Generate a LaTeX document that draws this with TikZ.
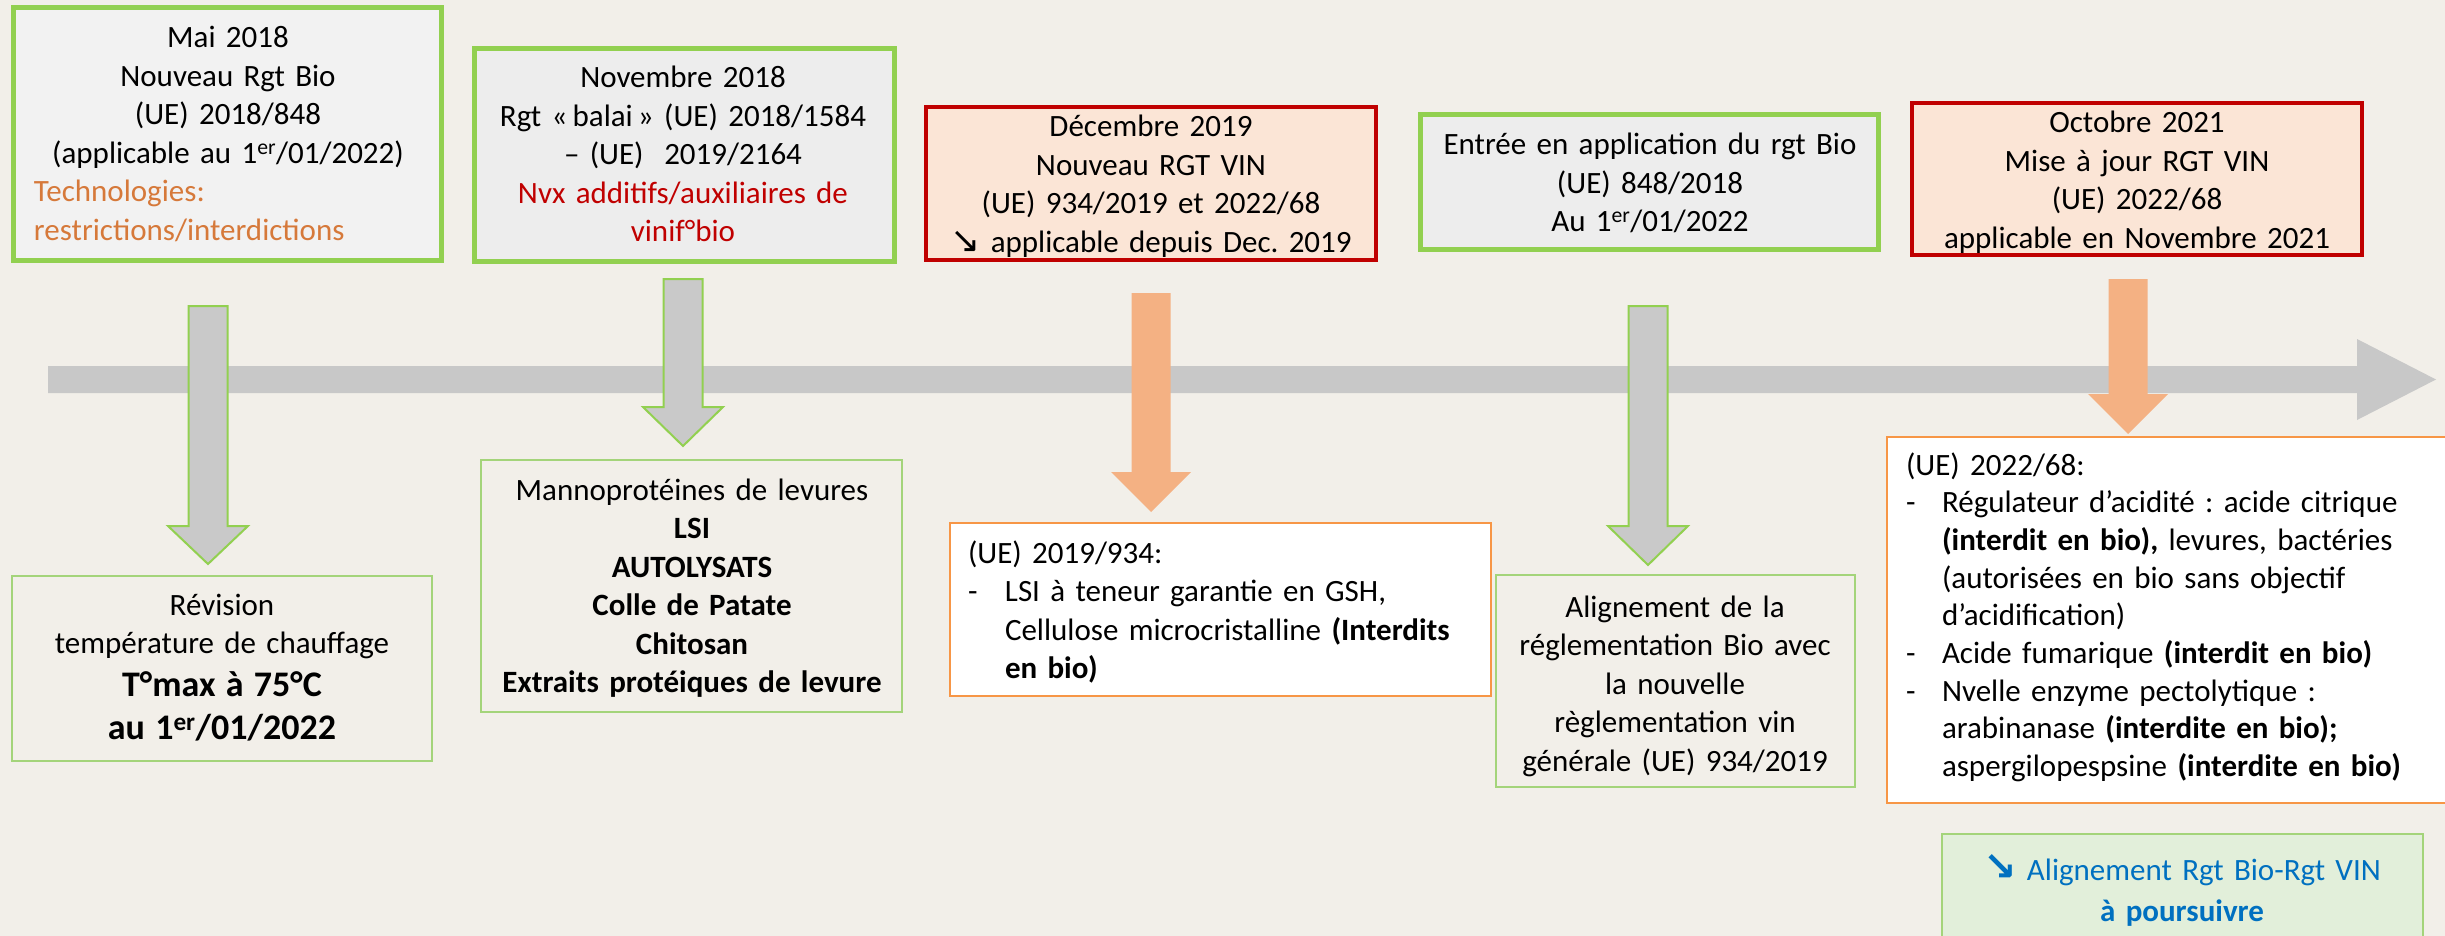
\documentclass[tikz,border=0pt]{standalone}
\usepackage{fontspec}
\setmainfont{Carlito}
\newfontfamily\symf{DejaVu Sans}
\frenchspacing
\definecolor{bg}{HTML}{F2EFE9}
\definecolor{fone}{HTML}{F2F2F2}
\definecolor{ftwo}{HTML}{EDEDED}
\definecolor{grn}{HTML}{92D050}
\definecolor{lgrn}{HTML}{A4D47A}
\definecolor{redb}{HTML}{C00000}
\definecolor{pink}{HTML}{FBE5D6}
\definecolor{oarrow}{HTML}{F4B183}
\definecolor{oborder}{HTML}{F79646}
\definecolor{tlgray}{HTML}{C8C8C8}
\definecolor{agray}{HTML}{C9C9C9}
\definecolor{otxt}{HTML}{D6793A}
\definecolor{rtxt}{HTML}{C00000}
\definecolor{bluetxt}{HTML}{0070C0}
\definecolor{lgfill}{HTML}{E2EFDA}
\newcommand\dnblockarrow[5]{%
  \path[#1] (#2-19.5,#3) -- (#2+19.5,#3) -- (#2+19.5,#4) -- (#2+40,#4) -- (#2,#5) -- (#2-40,#4) -- (#2-19.5,#4) -- cycle;}
\newcommand\itemdash[1]{\noindent\llap{\makebox[#1][l]{-}}}
\begin{document}
\begin{tikzpicture}[x=1pt,y=-1pt,
  every node/.style={inner sep=0pt, outer sep=0pt},
  txt/.style={font=\fontsize{31}{38.5}\selectfont, text=black},
  ctxt/.style={txt, align=center, anchor=base},
  gbox/.style={draw=grn, line width=5pt, anchor=north west},
  rbox/.style={draw=redb, fill=pink, line width=4pt, anchor=north west},
  tbox/.style={draw=lgrn, line width=2pt, anchor=north west},
  obox/.style={draw=oborder, fill=white, line width=2pt, anchor=north west},
  grayarrow/.style={fill=agray, draw=grn, line width=2pt},
  orarrow/.style={fill=oarrow}
]
\path[fill=bg,use as bounding box] (0,0) rectangle (2445,936);

% timeline
\path[fill=tlgray] (48,366) -- (2357,366) -- (2357,339) -- (2436,379.5) -- (2357,420) -- (2357,393) -- (48,393) -- cycle;

% down arrows
\dnblockarrow{grayarrow}{208}{306}{526}{564}
\dnblockarrow{grayarrow}{683}{279}{407}{446}
\dnblockarrow{orarrow}{1151}{293}{472}{512}
\dnblockarrow{grayarrow}{1648}{306}{526}{565}
\dnblockarrow{orarrow}{2128}{279}{394}{434}

% top boxes
\node[gbox, fill=fone, minimum width=428pt, minimum height=253pt] (b1) at (13.5,7.5) {};
\node[gbox, fill=ftwo, minimum width=420pt, minimum height=213pt] (b2) at (474.5,48.5) {};
\node[rbox, minimum width=450pt, minimum height=153pt] (b3) at (926,107) {};
\node[gbox, fill=ftwo, minimum width=458pt, minimum height=135pt] (b4) at (1420.5,114.5) {};
\node[rbox, minimum width=450pt, minimum height=152pt] (b5) at (1912,103) {};

% bottom boxes
\node[tbox, minimum width=420pt, minimum height=185pt] (b6) at (12,576) {};
\node[tbox, minimum width=421pt, minimum height=252pt] (b7) at (481,460) {};
\node[obox, minimum width=541pt, minimum height=173pt] (b8) at (950,523) {};
\node[tbox, minimum width=359pt, minimum height=212pt] (b9) at (1496,575) {};
\node[obox, minimum width=570pt, minimum height=366pt] (b10) at (1887,437) {};
\node[tbox, fill=lgfill, minimum width=481pt, minimum height=120pt] (b11) at (1942,834) {};

% texts top
\node[txt, text width=388pt, anchor=base west] (t1) at (34,48) {\centering Mai 2018\\Nouveau Rgt Bio\\(UE) 2018/848\\(applicable au 1\textsuperscript{er}/01/2022)\par\raggedright\textcolor{otxt}{Technologies:\\restrictions/interdictions}\par};
\node[ctxt, text width=410pt] (t2) at (683,88) {Novembre 2018\\Rgt «\,balai\,» (UE) 2018/1584\\– (UE)\ \ 2019/2164\\\textcolor{rtxt}{Nvx additifs/auxiliaires de\\vinif°bio}};
\node[ctxt, text width=440pt] (t3) at (1151,137) {Décembre 2019\\Nouveau RGT VIN\\(UE) 934/2019 et 2022/68\\{\symf\fontsize{36}{30}\selectfont ↘}\ applicable depuis Dec. 2019};
\node[ctxt, text width=450pt] (t4) at (1650,155) {Entrée en application du rgt Bio\\(UE) 848/2018\\Au 1\textsuperscript{er}/01/2022};
\node[ctxt, text width=440pt] (t5) at (2137,133) {Octobre 2021\\Mise à jour RGT VIN\\(UE) 2022/68\\applicable en Novembre 2021};

% texts bottom
\node[ctxt, text width=410pt] (t6) at (222,615) {Révision\\température de chauffage\par{\fontsize{36}{43}\selectfont\bfseries T°max à 75°C\\au 1\textsuperscript{er}/01/2022\par}};
\node[ctxt, text width=410pt] (t7) at (692,500) {Mannoprotéines de levures\\\textbf{LSI}\\\textbf{AUTOLYSATS}\\\textbf{Colle de Patate}\\\textbf{Chitosan}\\\textbf{Extraits protéiques de levure}};
\node[txt, text width=520pt, anchor=base west] (t8) at (968,563) {\raggedright (UE) 2019/934:\par\leftskip=37pt
\itemdash{37pt}LSI à teneur garantie en GSH,\\Cellulose microcristalline \textbf{(Interdits}\\\textbf{en bio)}\par};
\node[ctxt, text width=350pt] (t9) at (1675,617) {Alignement de la\\réglementation Bio avec\\la nouvelle\\règlementation vin\\générale (UE) 934/2019};
\node[txt, text width=530pt, anchor=base west, font=\fontsize{31}{37.7}\selectfont] (t10) at (1906,475) {\raggedright (UE) 2022/68:\par\leftskip=36pt
\itemdash{36pt}Régulateur d’acidité : acide citrique\\\textbf{(interdit en bio),} levures, bactéries\\(autorisées en bio sans objectif\\d’acidification)\par
\itemdash{36pt}Acide fumarique \textbf{(interdit en bio)}\par
\itemdash{36pt}Nvelle enzyme pectolytique :\\arabinanase \textbf{(interdite en bio);}\\aspergilopespsine \textbf{(interdite en bio)}\par};
\node[ctxt, text width=470pt, text=bluetxt, font=\fontsize{31}{41}\selectfont] (t11) at (2182,880) {{\symf\bfseries\fontsize{40}{30}\selectfont ↘}\ Alignement Rgt Bio-Rgt VIN\\\textbf{à poursuivre}};
\end{tikzpicture}
\end{document}
